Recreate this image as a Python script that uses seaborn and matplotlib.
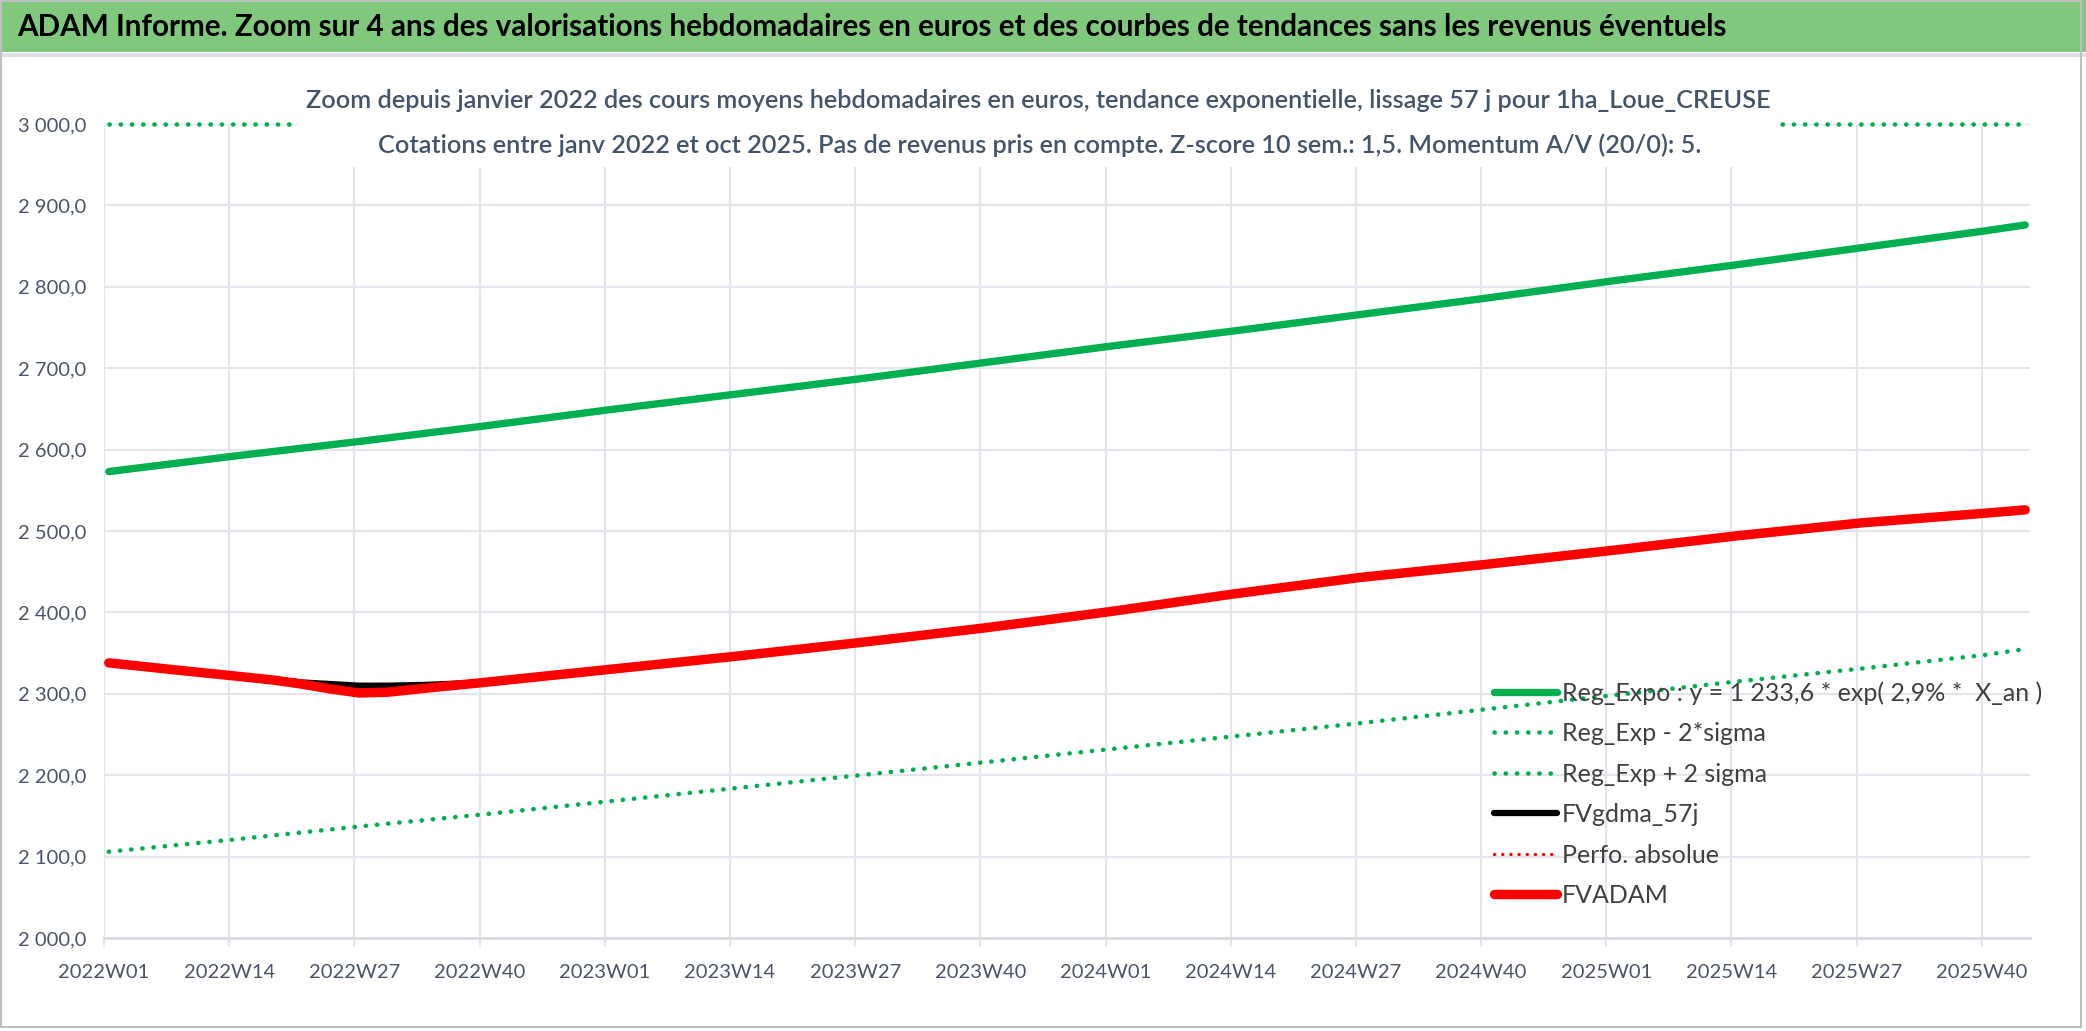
import matplotlib
matplotlib.use("Agg")
import matplotlib.pyplot as plt
from matplotlib.patches import Rectangle
import seaborn as sns

# ---------------- data ----------------
tick_labels = ["2022W01", "2022W14", "2022W27", "2022W40",
               "2023W01", "2023W14", "2023W27", "2023W40",
               "2024W01", "2024W14", "2024W27", "2024W40",
               "2025W01", "2025W14", "2025W27", "2025W40"]

trend_weeks = ["2022W01", "2022W14", "2022W27", "2022W40",
               "2023W01", "2023W14", "2023W27", "2023W40",
               "2024W01", "2024W14", "2024W27", "2024W40",
               "2025W01", "2025W14", "2025W27", "2025W40", "2025W44"]
reg_expo = [2573, 2592, 2610, 2629, 2649, 2668, 2687, 2707, 2727,
            2746, 2766, 2786, 2807, 2827, 2848, 2869, 2876]
reg_minus_2sigma = [2106, 2121, 2137, 2152, 2168, 2184, 2200, 2216, 2232,
                    2248, 2264, 2281, 2298, 2315, 2331, 2348, 2355]
reg_plus_2sigma = [3000, 3000, 3000, 3000, 3000, 3000, 3000, 3000, 3000,
                   3000, 3000, 3000, 3000, 3000, 3000, 3000, 3000]

adam_weeks = ["2022W01", "2022W05", "2022W09", "2022W14", "2022W18", "2022W21",
              "2022W24", "2022W27", "2022W30", "2022W34", "2022W40",
              "2023W01", "2023W14", "2023W27", "2023W40",
              "2024W01", "2024W14", "2024W27", "2024W40",
              "2025W01", "2025W14", "2025W27", "2025W40", "2025W44"]
fvadam = [2338, 2333, 2328, 2322, 2317, 2312, 2306, 2301, 2302, 2307, 2314,
          2330, 2346, 2363, 2381, 2401, 2423, 2443, 2459, 2476, 2494, 2510, 2522, 2526]
fvgdma_57j = [2338, 2333, 2328, 2322, 2318, 2314, 2312, 2310, 2310, 2311, 2314,
              2330, 2346, 2363, 2381, 2401, 2423, 2443, 2459, 2476, 2494, 2510, 2522, 2525]
perfo_absolue = [2338, 2333, 2328, 2322, 2317, 2312, 2306, 2301, 2302, 2307, 2314,
                 2330, 2346, 2363, 2381, 2401, 2423, 2443, 2459, 2476, 2494, 2510, 2522, 2526]

y_ticks = [2000, 2100, 2200, 2300, 2400, 2500, 2600, 2700, 2800, 2900, 3000]

legend_labels = ["Reg_Expo : y = 1 233,6 * exp( 2,9% *  X_an )",
                 "Reg_Exp - 2*sigma",
                 "Reg_Exp + 2 sigma",
                 "FVgdma_57j",
                 "Perfo. absolue",
                 "FVADAM"]

title = ("ADAM Informe. Zoom sur 4 ans des valorisations hebdomadaires en euros "
         "et des courbes de tendances sans les revenus éventuels")
subtitle1 = ("Zoom depuis janvier 2022 des cours moyens hebdomadaires en euros, "
             "tendance exponentielle, lissage 57 j pour 1ha_Loue_CREUSE")
subtitle2 = ("Cotations entre janv 2022 et oct 2025. Pas de revenus pris en compte. "
             "Z-score 10 sem.: 1,5. Momentum A/V (20/0): 5.")

# ---------------- styling ----------------
W, H = 2086, 1031
sns.set_theme(style="white")
plt.rcParams['font.family'] = ['Lato', 'DejaVu Sans']

GREEN = '#00B050'
RED = '#FF0000'
GRID = '#E2E5EB'
TICK_TXT = '#4B5468'
SUB_TXT = '#44546A'


def fx(px):
    return px / W


def fy(py):
    return 1 - py / H


def week_index(lbl):
    yr, wk = lbl.split("W")
    return (int(yr) - 2022) * 52 + int(wk) - 1


fig = plt.figure(figsize=(W / 100, H / 100), dpi=100)
fig.patch.set_facecolor('white')

AX_L, AX_R, AX_T, AX_B = 104, 2030, 124, 938
ax = fig.add_axes([fx(AX_L), fy(AX_B), (AX_R - AX_L) / W, (AX_B - AX_T) / H])
ax.set_facecolor('white')

dot = (0, (0.05, 2.4))
small_dot = (0, (0.05, 2.4))


def draw(weeks, vals, **kw):
    x = [week_index(w) for w in weeks]
    sns.lineplot(x=x, y=vals, ax=ax, estimator=None, sort=False, **kw)
    return ax.lines[-1]


h1 = draw(trend_weeks, reg_expo, color=GREEN, linewidth=5.3,
          solid_capstyle='round', label=legend_labels[0])
h2 = draw(trend_weeks, reg_minus_2sigma, color=GREEN, linewidth=3.3,
          linestyle=dot, dash_capstyle='round', label=legend_labels[1])
h3 = draw(trend_weeks, reg_plus_2sigma, color=GREEN, linewidth=3.3,
          linestyle=dot, dash_capstyle='round', label=legend_labels[2])
h3.set_clip_on(False)
h4 = draw(adam_weeks, fvgdma_57j, color='black', linewidth=4.5,
          solid_capstyle='round', label=legend_labels[3])
h5 = draw(adam_weeks, perfo_absolue, color=RED, linewidth=2.4,
          linestyle=small_dot, dash_capstyle='round', label=legend_labels[4])
h6 = draw(adam_weeks, fvadam, color=RED, linewidth=6.8,
          solid_capstyle='round', label=legend_labels[5])

ax.set_xlim(-0.5, 199.5)
ax.set_ylim(2000, 3000)
ax.set_xticks([week_index(l) - 0.5 for l in tick_labels])
ax.set_xticklabels(tick_labels)
ax.set_yticks(y_ticks)
ax.set_yticklabels([f"{v:,.1f}".replace(",", " ").replace(".", ",") for v in y_ticks])
ax.set_xlabel("")
ax.set_ylabel("")

ax.grid(True, color=GRID, linewidth=1.5)
ax.set_axisbelow(True)
for side in ['left', 'right', 'top']:
    ax.spines[side].set_visible(False)
ax.spines['bottom'].set_color('#D9DCE2')
ax.spines['bottom'].set_linewidth(2.2)
ax.tick_params(axis='x', length=6.5, width=1.5, color=GRID, pad=12,
               labelsize=14.5, labelcolor=TICK_TXT, direction='out', bottom=True)
ax.tick_params(axis='y', length=0, pad=13, labelsize=14.5, labelcolor=TICK_TXT)

leg = ax.legend(handles=[h1, h2, h3, h4, h5, h6], labels=legend_labels,
                loc='upper left', bbox_to_anchor=(fx(1494), fy(681)),
                bbox_transform=fig.transFigure, frameon=False, fontsize=18,
                handlelength=2.5, handletextpad=0.2, labelspacing=0.7,
                borderpad=0, borderaxespad=0)
for t in leg.get_texts():
    t.set_color('#404040')

# ---------------- title band & subtitle box ----------------
fig.add_artist(Rectangle((0, fy(52)), 1, 52 / H, transform=fig.transFigure,
                         facecolor='#80C87C', edgecolor='none', zorder=1))
fig.add_artist(Rectangle((0, fy(57)), 1, 4 / H, transform=fig.transFigure,
                         facecolor='#DDE0E6', edgecolor='none', zorder=1))
fig.add_artist(Rectangle((fx(298), fy(167)), (1780 - 298) / W, (167 - 64) / H,
                         transform=fig.transFigure, facecolor='white',
                         edgecolor='none', zorder=4))

renderer = fig.canvas.get_renderer()


def fit(t, target_w):
    bb = t.get_window_extent(renderer)
    t.set_fontsize(t.get_fontsize() * target_w / bb.width)


t_title = fig.text(fx(17), fy(27), title, ha='left', va='center',
                   fontweight='bold', fontsize=24, color='black', zorder=5)
fit(t_title, 1713)

t_s1 = fig.text(fx(1038), fy(100), subtitle1, ha='center', va='center',
                fontsize=20, fontweight='semibold', color=SUB_TXT, zorder=5)
fit(t_s1, 1466)
t_s2 = fig.text(fx(1040), fy(145), subtitle2, ha='center', va='center',
                fontsize=t_s1.get_fontsize(), fontweight='semibold',
                color=SUB_TXT, zorder=5)

fig.add_artist(Rectangle((fx(1), fy(1027)), 2080 / W, 1026 / H,
                         transform=fig.transFigure, fill=False,
                         edgecolor='#BFBFBF', linewidth=1.5, zorder=10))

fig.savefig('out.png', dpi=100, facecolor='white')
